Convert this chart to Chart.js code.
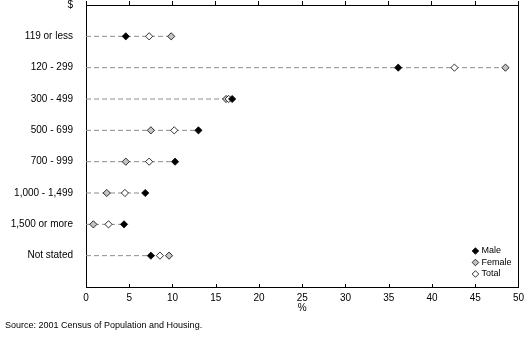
<!DOCTYPE html>
<html>
<head>
<meta charset="utf-8">
<script src="https://cdn.jsdelivr.net/npm/chart.js@4/dist/chart.umd.min.js"></script>
<style>
  html, body { margin: 0; padding: 0; background: #fff; }
  #wrap { width: 529px; height: 340px; position: relative; }
</style>
</head>
<body>
<div id="wrap"><canvas id="incomeChart"></canvas></div>
<script>
/* Weekly individual income by sex (%), 2001 */
var incomeBands = ['119 or less', '120 - 299', '300 - 499', '500 - 699', '700 - 999', '1,000 - 1,499', '1,500 or more', 'Not stated'];
var maleValues   = [4.6, 36.1, 16.9, 13.0, 10.3, 6.85, 4.4, 7.5];
var femaleValues = [9.85, 48.5, 16.2, 7.5, 4.6, 2.4, 0.85, 9.6];
var totalValues  = [7.3, 42.6, 16.5, 10.2, 7.3, 4.5, 2.6, 8.55];
var xTicks = [0, 5, 10, 15, 20, 25, 30, 35, 40, 45, 50];

var FONT = 'Liberation Sans, Arial, sans-serif';

function points(values) {
  return values.map(function (v, i) { return { x: v, y: i + 1 }; });
}

// dashed leader from 0 to the furthest marker of each band
var leaders = incomeBands.map(function (band, i) {
  var far = Math.max(maleValues[i], femaleValues[i], totalValues[i]);
  return {
    type: 'line',
    label: band,
    data: [{ x: 0, y: i + 1 }, { x: far, y: i + 1 }],
    borderColor: '#8c8c8c',
    borderWidth: 1,
    borderDash: [5, 3],
    pointRadius: 0,
    order: 10
  };
});

var markerSets = [
  { label: 'Male', data: points(maleValues), pointBackgroundColor: '#000', order: 1 },
  { label: 'Total', data: points(totalValues), pointBackgroundColor: '#fff', order: 2 },
  { label: 'Female', data: points(femaleValues), pointBackgroundColor: '#c4c4c4', order: 3 }
].map(function (d) {
  d.type = 'scatter';
  d.pointStyle = 'rectRot';
  d.pointRadius = 3.6;
  d.pointHoverRadius = 3.6;
  d.pointBorderColor = '#000';
  d.pointBorderWidth = 0.8;
  return d;
});

// frame top line and inward tick marks along the bottom axis
var frameTicks = {
  id: 'frameTicks',
  afterDraw: function (chart) {
    var ctx = chart.ctx, a = chart.chartArea, x = chart.scales.x;
    var top = Math.round(a.top) + 0.5;
    ctx.save();
    ctx.strokeStyle = '#000';
    ctx.lineWidth = 1;
    ctx.beginPath();
    ctx.moveTo(a.left, top);
    ctx.lineTo(a.right, top);
    ctx.stroke();
    xTicks.forEach(function (t) {
      var px = Math.round(x.getPixelForValue(t)) + 0.5;
      ctx.beginPath();
      ctx.moveTo(px, a.bottom);
      ctx.lineTo(px, a.bottom - 3);
      ctx.stroke();
    });
    ctx.restore();
  }
};

// small legend in the lower right corner of the plot
var cornerLegend = {
  id: 'cornerLegend',
  afterDraw: function (chart) {
    var ctx = chart.ctx, a = chart.chartArea;
    var items = [['Male', '#000'], ['Female', '#c4c4c4'], ['Total', '#fff']];
    ctx.save();
    ctx.font = '9px ' + FONT;
    ctx.textBaseline = 'middle';
    items.forEach(function (it, i) {
      var cx = a.right - 43, cy = a.bottom - 36 + i * 11.5, r = 3.3;
      ctx.beginPath();
      ctx.moveTo(cx, cy - r);
      ctx.lineTo(cx + r, cy);
      ctx.lineTo(cx, cy + r);
      ctx.lineTo(cx - r, cy);
      ctx.closePath();
      ctx.fillStyle = it[1];
      ctx.fill();
      ctx.strokeStyle = '#000';
      ctx.lineWidth = 0.8;
      ctx.stroke();
      ctx.fillStyle = '#000';
      ctx.fillText(it[0], cx + 6, cy);
    });
    ctx.restore();
  }
};

new Chart(document.getElementById('incomeChart'), {
  data: { datasets: leaders.concat(markerSets) },
  plugins: [frameTicks, cornerLegend],
  options: {
    responsive: true,
    maintainAspectRatio: false,
    animation: false,
    events: [],
    layout: { autoPadding: false, padding: { left: 5, right: 0, top: 0, bottom: 9 } },
    plugins: {
      legend: { display: false },
      tooltip: { enabled: false },
      title: {
        display: true,
        position: 'bottom',
        align: 'start',
        text: 'Source: 2001 Census of Population and Housing.',
        color: '#000',
        font: { family: FONT, size: 9, weight: 'normal' },
        padding: { top: 0.7, bottom: 0 }
      }
    },
    scales: {
      x: {
        type: 'linear',
        position: 'bottom',
        min: 0,
        max: 50,
        afterBuildTicks: function (s) { s.ticks = xTicks.map(function (v) { return { value: v }; }); },
        ticks: { color: '#000', font: { family: FONT, size: 10 }, padding: 5, maxRotation: 0 },
        grid: { display: false, drawTicks: false },
        border: { display: true, color: '#000', width: 1 },
        title: { display: true, text: '%', color: '#000', font: { family: FONT, size: 10 }, padding: { top: -6.5, bottom: 5 } }
      },
      xTop: {
        type: 'linear',
        position: 'top',
        min: 0,
        max: 50,
        afterBuildTicks: function (s) { s.ticks = xTicks.map(function (v) { return { value: v }; }); },
        ticks: { display: false },
        grid: { drawOnChartArea: false, tickLength: 4, color: '#000' },
        border: { display: true, color: '#000', width: 1 },
        afterFit: function (s) { s.height = 5; }
      },
      y: {
        type: 'linear',
        reverse: true,
        min: 0,
        max: 9,
        afterBuildTicks: function (s) {
          s.ticks = [0, 1, 2, 3, 4, 5, 6, 7, 8].map(function (v) { return { value: v }; });
        },
        ticks: {
          color: '#000',
          font: { family: FONT, size: 10 },
          padding: 5,
          callback: function (v) { return v === 0 ? '$' : incomeBands[v - 1]; }
        },
        grid: { display: false },
        border: { display: true, color: '#000', width: 1 },
        afterFit: function (s) { s.width = 81; s.paddingTop = 0; s.paddingBottom = 0; }
      },
      yRight: {
        type: 'linear',
        position: 'right',
        min: 0,
        max: 9,
        ticks: { display: false },
        grid: { display: false },
        border: { display: true, color: '#000', width: 1 },
        afterFit: function (s) { s.width = 10; }
      }
    }
  }
});
</script>
</body>
</html>
